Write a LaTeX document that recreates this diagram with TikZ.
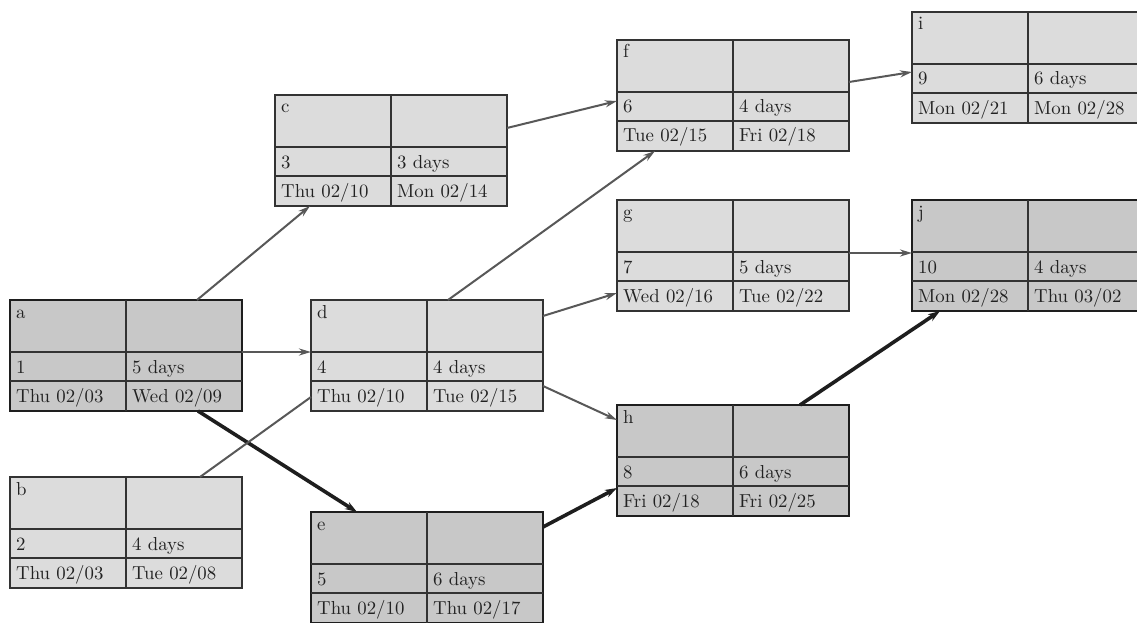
\documentclass[tikz,border=0pt]{standalone}
\usepackage{fontspec}
\newfontfamily\cellfont{lmroman10-regular.otf}
\usetikzlibrary{arrows.meta,calc}
\definecolor{lightfill}{HTML}{DCDCDC}
\definecolor{critfill}{HTML}{C8C8C8}
\definecolor{linegray}{HTML}{585858}
\definecolor{txt}{HTML}{222222}
\definecolor{edge}{HTML}{333333}
\definecolor{critedge}{HTML}{1E1E1E}
\tikzset{
  taskbase/.style={rectangle, anchor=north west, minimum width=232pt, minimum height=111pt, inner sep=0pt, outer sep=0pt},
  normaltask/.style={taskbase, draw=edge, fill=lightfill, line width=1.4pt},
  crittask/.style={taskbase, draw=critedge, fill=critfill, line width=2.9pt},
  grid/.style={draw=edge, line width=1.2pt},
  cell/.style={anchor=base west, inner sep=0pt, font=\cellfont\fontsize{18.8}{22}\selectfont, text=txt},
  link/.style={draw=linegray, line width=2pt, -{Stealth[length=12pt,width=7pt]}},
  plainlink/.style={draw=linegray, line width=2pt},
  critlink/.style={draw=critedge, line width=3.6pt, -{Stealth[length=12pt,width=8pt]}},
}
% name, x, y, style, label, number, duration, start, finish
\newcommand\taskbox[9]{%
  \node[#4] (#1) at (#2,-#3) {};
  \draw[grid] ($(#1.north west)+(116,0)$) -- ($(#1.south west)+(116,0)$);
  \draw[grid] ($(#1.north west)+(0,-52)$) -- ($(#1.north east)+(0,-52)$);
  \draw[grid] ($(#1.north west)+(0,-81)$) -- ($(#1.north east)+(0,-81)$);
  \node[cell] (#1l) at ($(#1.north west)+(6,-18)$) {#5};
  \node[cell] (#1n) at ($(#1.north west)+(6,-73)$) {#6};
  \node[cell] (#1d) at ($(#1.north west)+(122,-73)$) {#7};
  \node[cell] (#1s) at ($(#1.north west)+(6,-102)$) {#8};
  \node[cell] (#1f) at ($(#1.north west)+(122,-102)$) {#9};
}
\begin{document}
\begin{tikzpicture}[x=1pt,y=1pt]
\useasboundingbox (0,0) rectangle (1137,-623);
\clip (0,0) rectangle (1137,-623);
\fill[white] (0,0) rectangle (1137,-623);

\taskbox{a}{10}{300}{crittask}{a}{1}{5 days}{Thu 02/03}{Wed 02/09}
\taskbox{b}{10}{477}{normaltask}{b}{2}{4 days}{Thu 02/03}{Tue 02/08}
\taskbox{c}{275}{95}{normaltask}{c}{3}{3 days}{Thu 02/10}{Mon 02/14}
\taskbox{d}{311}{300}{normaltask}{d}{4}{4 days}{Thu 02/10}{Tue 02/15}
\taskbox{e}{311}{512}{crittask}{e}{5}{6 days}{Thu 02/10}{Thu 02/17}
\taskbox{f}{617}{40}{normaltask}{f}{6}{4 days}{Tue 02/15}{Fri 02/18}
\taskbox{g}{617}{200}{normaltask}{g}{7}{5 days}{Wed 02/16}{Tue 02/22}
\taskbox{h}{617}{405}{crittask}{h}{8}{6 days}{Fri 02/18}{Fri 02/25}
\taskbox{i}{912}{12}{normaltask}{i}{9}{6 days}{Mon 02/21}{Mon 02/28}
\taskbox{j}{912}{200}{crittask}{j}{10}{4 days}{Mon 02/28}{Thu 03/02}

% connectors
\draw[link] ($(a.north west)+(187,0)$) -- ($(c.south west)+(35,0)$);
\draw[link] ($(a.north east)+(0,-52)$) -- ($(d.north west)+(0,-52)$);
\draw[critlink] ($(a.south west)+(188,0)$) -- ($(e.north west)+(46,0)$);
\draw[plainlink] ($(b.north west)+(190,0)$) -- ($(d.south west)+(0,14)$);
\draw[link] ($(c.north east)+(0,-33)$) -- ($(f.north west)+(0,-61)$);
\draw[link] ($(d.north west)+(137,0)$) -- ($(f.south west)+(38,0)$);
\draw[link] ($(d.north east)+(0,-16)$) -- ($(g.north west)+(0,-93)$);
\draw[link] ($(d.north east)+(0,-86)$) -- ($(h.north west)+(0,-15)$);
\draw[critlink] ($(e.north east)+(0,-15)$) -- ($(h.north west)+(0,-83)$);
\draw[link] ($(f.north east)+(0,-42)$) -- ($(i.north west)+(0,-60)$);
\draw[link] ($(g.north east)+(0,-53)$) -- ($(j.north west)+(0,-53)$);
\draw[critlink] ($(h.north west)+(183,0)$) -- ($(j.south west)+(28,0)$);
\end{tikzpicture}
\end{document}
